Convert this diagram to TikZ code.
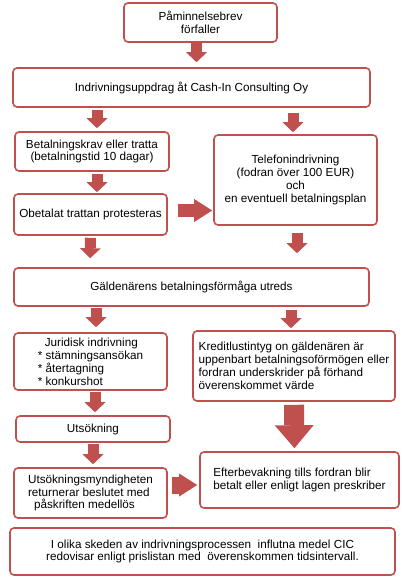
\documentclass[tikz,border=0pt]{standalone}
\usepackage{fontspec}
\setmainfont{Liberation Sans}
\usepackage{tikz}
\usetikzlibrary{arrows.meta}

\definecolor{cicred}{RGB}{192,80,77}

\tikzset{
    box/.style={draw=cicred, line width=1.6pt, rounded corners=4pt, fill=white,
        inner sep=2pt, align=center, font=\fontsize{11.7pt}{12.9pt}\selectfont},
    arr/.style={cicred, line width=11pt, -{Triangle[width=21pt,length=10pt,line width=0pt 0 0]}},
    sidearr/.style={cicred, line width=#1, -{Triangle[width=23pt,length=18pt,line width=0pt 0 0]}},
    bigarr/.style={cicred, line width=20pt, -{Triangle[width=39pt,length=23pt,line width=0pt 0 0]}}
}

\begin{document}
\begin{tikzpicture}[x=1pt,y=-1pt]
    \useasboundingbox (0,0) rectangle (402,587);

    \node[box, minimum width=153pt, minimum height=39pt] (remind) at (200.5,22.5) {Påminnelsebrev\\förfaller};
    \node[box, minimum width=357pt, minimum height=39pt] (assign) at (191.5,87.5) {Indrivningsuppdrag åt Cash-In Consulting Oy};
    \node[box, minimum width=154pt, minimum height=39pt] (demand) at (92,151.5) {Betalningskrav eller tratta\\(betalningstid 10 dagar)};
    \node[box, minimum width=163pt, minimum height=90pt] (phone) at (295.5,180) {Telefonindrivning\\(fodran över 100 EUR)\\och\\en eventuell betalningsplan};
    \node[box, minimum width=153pt, minimum height=41pt] (protest) at (90.5,214.5) {Obetalat trattan protesteras};
    \node[box, minimum width=355pt, minimum height=38pt] (ability) at (191.5,287) {Gäldenärens betalningsförmåga utreds};
    \node[box, minimum width=153pt, minimum height=57pt, align=left] (legal) at (90.5,361.5) {\hspace*{7pt}Juridisk indrivning\\* stämningsansökan\\* återtagning\\* konkurshot};
    \node[box, minimum width=202pt, minimum height=70pt, align=left] (loss) at (294,366) {Kreditlustintyg on gäldenären är\\uppenbart betalningsoförmögen eller\\fordran underskrider på förhand\\överenskommet värde};
    \node[box, minimum width=154pt, minimum height=26pt] (distraint) at (93,429) {Utsökning};
    \node[box, minimum width=153pt, minimum height=50pt, align=left] (authority) at (90.5,493) {Utsökningsmyndigheten\\returnerar beslutet med\\\hspace*{6pt}påskriften medellös};
    \node[box, minimum width=199pt, minimum height=56pt, align=left] (watch) at (299.5,480) {Efterbevakning tills fordran blir\\betalt eller enligt lagen preskriber};
    \node[box, minimum width=385pt, minimum height=47pt] (report) at (202.5,551.5) {I olika skeden av indrivningsprocessen\ \ influtna medel CIC\\redovisar enligt prislistan med\ \ överenskommen tidsintervall.};

    \draw[arr, shorten >=5pt] ([xshift=-4pt]remind.south) -- ([xshift=5pt]assign.north);
    \draw[arr, shorten <=2pt, shorten >=3pt] ([xshift=-94.5pt]assign.south) -- ([xshift=5pt]demand.north);
    \draw[arr, shorten <=5pt, shorten >=2pt] ([xshift=101.5pt]assign.south) -- ([xshift=-2.5pt]phone.north);
    \draw[arr, shorten <=2pt, shorten >=1pt] ([xshift=5pt]demand.south) -- ([xshift=6.5pt]protest.north);
    \draw[sidearr=13pt, shorten <=10pt, shorten >=1pt] ([yshift=4pt]protest.east) -- ([yshift=-30.5pt]phone.west);
    \draw[arr, shorten <=2pt, shorten >=9pt] (protest.south) -- ([xshift=-101.5pt]ability.north);
    \draw[arr, shorten <=7pt, shorten >=14pt] ([xshift=1.5pt]phone.south) -- ([xshift=105.5pt]ability.north);
    \draw[arr, shorten <=1pt, shorten >=5pt] ([xshift=-95.5pt]ability.south) -- ([xshift=5.5pt]legal.north);
    \draw[arr, shorten <=3pt, shorten >=2pt] ([xshift=99.5pt]ability.south) -- ([xshift=-3pt]loss.north);
    \draw[arr, shorten <=1pt, shorten >=3pt] ([xshift=4.5pt]legal.south) -- ([xshift=2pt]distraint.north);
    \draw[bigarr, shorten <=3pt, shorten >=3pt] (loss.south) -- ([xshift=-5pt]watch.north);
    \draw[arr, shorten <=1pt, shorten >=3pt] (distraint.south) -- ([xshift=2.5pt]authority.north);
    \draw[sidearr=17pt, shorten <=4pt, shorten >=2pt] ([yshift=8pt]authority.east) -- ([yshift=-5pt]watch.west);
\end{tikzpicture}
\end{document}
